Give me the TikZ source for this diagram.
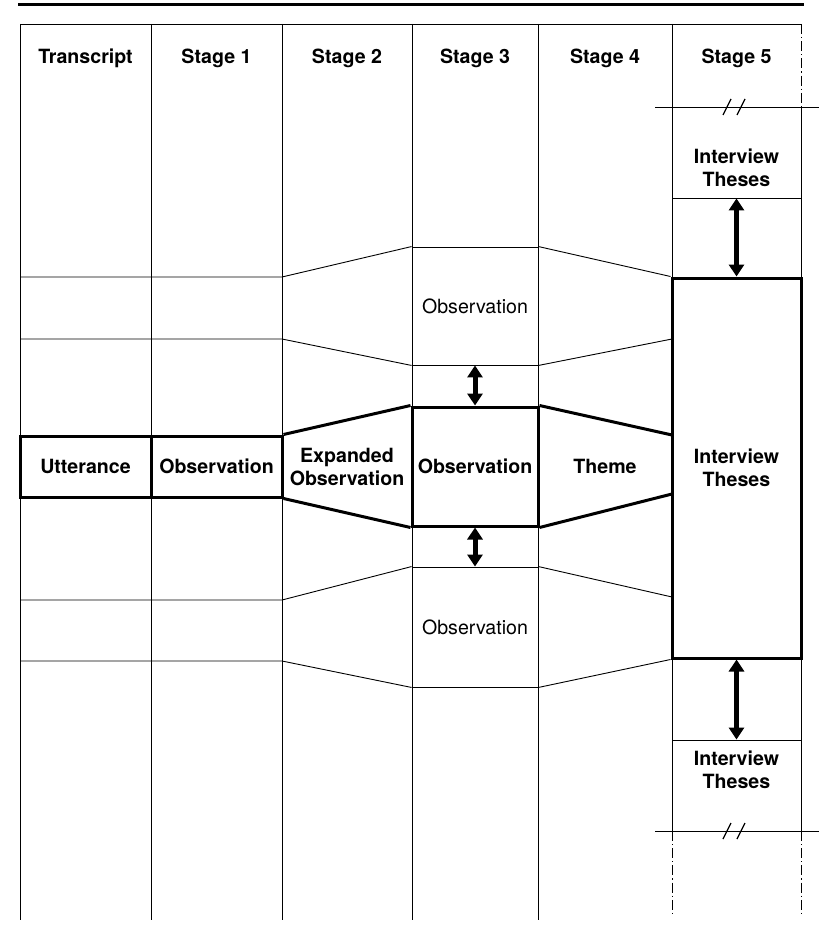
\documentclass[tikz,border=0pt]{standalone}
\usepackage{fontspec}
\setmainfont{TeX Gyre Heros}
\usetikzlibrary{arrows.meta}
\newcommand{\stagefont}{\fontsize{9.8}{11.5}\selectfont}
\begin{document}
\begin{tikzpicture}[x=0.5pt,y=-0.5pt,
        gridline/.style={black, line width=0.45pt},
        bandline/.style={black, line width=1.5pt},
        cutline/.style={black, line width=0.45pt, dash pattern=on 5pt off 1.5pt on 0.6pt off 1.5pt},
        thinbox/.style={draw, line width=0.45pt, inner sep=0pt, align=center, font=\stagefont},
        thickbox/.style={draw, line width=1.5pt, inner sep=0pt, align=center, font=\stagefont\bfseries},
        lbl/.style={align=center, inner sep=0pt, font=\stagefont\bfseries},
        dblarrow/.style={{Triangle[length=6pt,width=7.5pt]}-{Triangle[length=6pt,width=7.5pt]}, line width=2.5pt}]
    \useasboundingbox (0,0) rectangle (819,936);

    % rules and columns
    \draw[line width=1.5pt] (18,5) -- (804,5);
    \draw[gridline] (20,24) -- (801,24);
    \foreach \x in {20,151,282,412,538}
        \draw[gridline] (\x,24) -- (\x,920);
    \draw[gridline] (672,24) -- (672,831);
    \draw[gridline] (801,107) -- (801,831);
    \draw[cutline] (801,24) -- (801,107);
    \draw[cutline] (672,831) -- (672,913);
    \draw[cutline] (801,831) -- (801,913);

    % headers
    \foreach \x/\t [count=\i from 0] in {85.5/Transcript, 216.5/Stage 1, 347/Stage 2, 475/Stage 3, 605/Stage 4, 736.5/Stage 5}
        \node[lbl] (hdr\i) at (\x,58) {\t};

    % boxes
    \node[thickbox, minimum width=65.5pt, minimum height=30.5pt] (utt) at (85.5,466.5) {Utterance};
    \node[thickbox, minimum width=65.5pt, minimum height=30.5pt] (obs1) at (216.5,466.5) {Observation};
    \node[thickbox, minimum width=63pt, minimum height=59.5pt] (obs3) at (475,466.5) {Observation};
    \node[thinbox, minimum width=63pt, minimum height=59pt] (obsUp) at (475,306) {Observation};
    \node[thinbox, minimum width=63pt, minimum height=60pt] (obsDown) at (475,627) {Observation};
    \node[thickbox, minimum width=64.5pt, minimum height=190pt] (ith) at (736.5,468) {Interview\\Theses};
    \node[thinbox, minimum width=64.5pt, minimum height=45.5pt] (ithUp) at (736.5,152.5) {};
    \node[thinbox, minimum width=64.5pt, minimum height=45.5pt] (ithDown) at (736.5,785.5) {};
    \node[lbl] (ithUpText) at (736.5,168) {Interview\\Theses};
    \node[lbl] (ithDownText) at (736.5,770) {Interview\\Theses};
    \node[lbl] (expObs) at (347,466.5) {Expanded\\Observation};
    \node[lbl] (theme) at (605,466) {Theme};

    % rows
    \draw[gridline] (20,277) -- (282,277) -- (obsUp.north west);
    \draw[gridline] (20,339) -- (282,339) -- (obsUp.south west);
    \draw[gridline] (20,600) -- (282,600) -- (obsDown.north west);
    \draw[gridline] (20,661) -- (282,661) -- (obsDown.south west);
    \draw[gridline] (obsUp.north east) -- (ith.north west);
    \draw[gridline] (obsUp.south east) -- (672,339);
    \draw[gridline] (obsDown.north east) -- (672,597);
    \draw[gridline] (obsDown.south east) -- (ith.south west);

    % main band
    \draw[bandline] (obs1.north east) -- (obs3.north west);
    \draw[bandline] (obs1.south east) -- (obs3.south west);
    \draw[bandline] (obs3.north east) -- (672,435);
    \draw[bandline] (obs3.south east) -- (672,494);

    % breaks
    \foreach \y in {107,831} {
        \draw[gridline] (655,\y) -- (727,\y) (743,\y) -- (819,\y);
        \draw[line width=0.6pt] (723,\y+8) -- (731,\y-8) (737,\y+8) -- (745,\y-8);
    }

    % arrows
    \draw[dblarrow] (ithUp.south) -- (ith.north);
    \draw[dblarrow] (obsUp.south) -- (obs3.north);
    \draw[dblarrow] (obs3.south) -- (obsDown.north);
    \draw[dblarrow] (ith.south) -- (ithDown.north);
\end{tikzpicture}
\end{document}
